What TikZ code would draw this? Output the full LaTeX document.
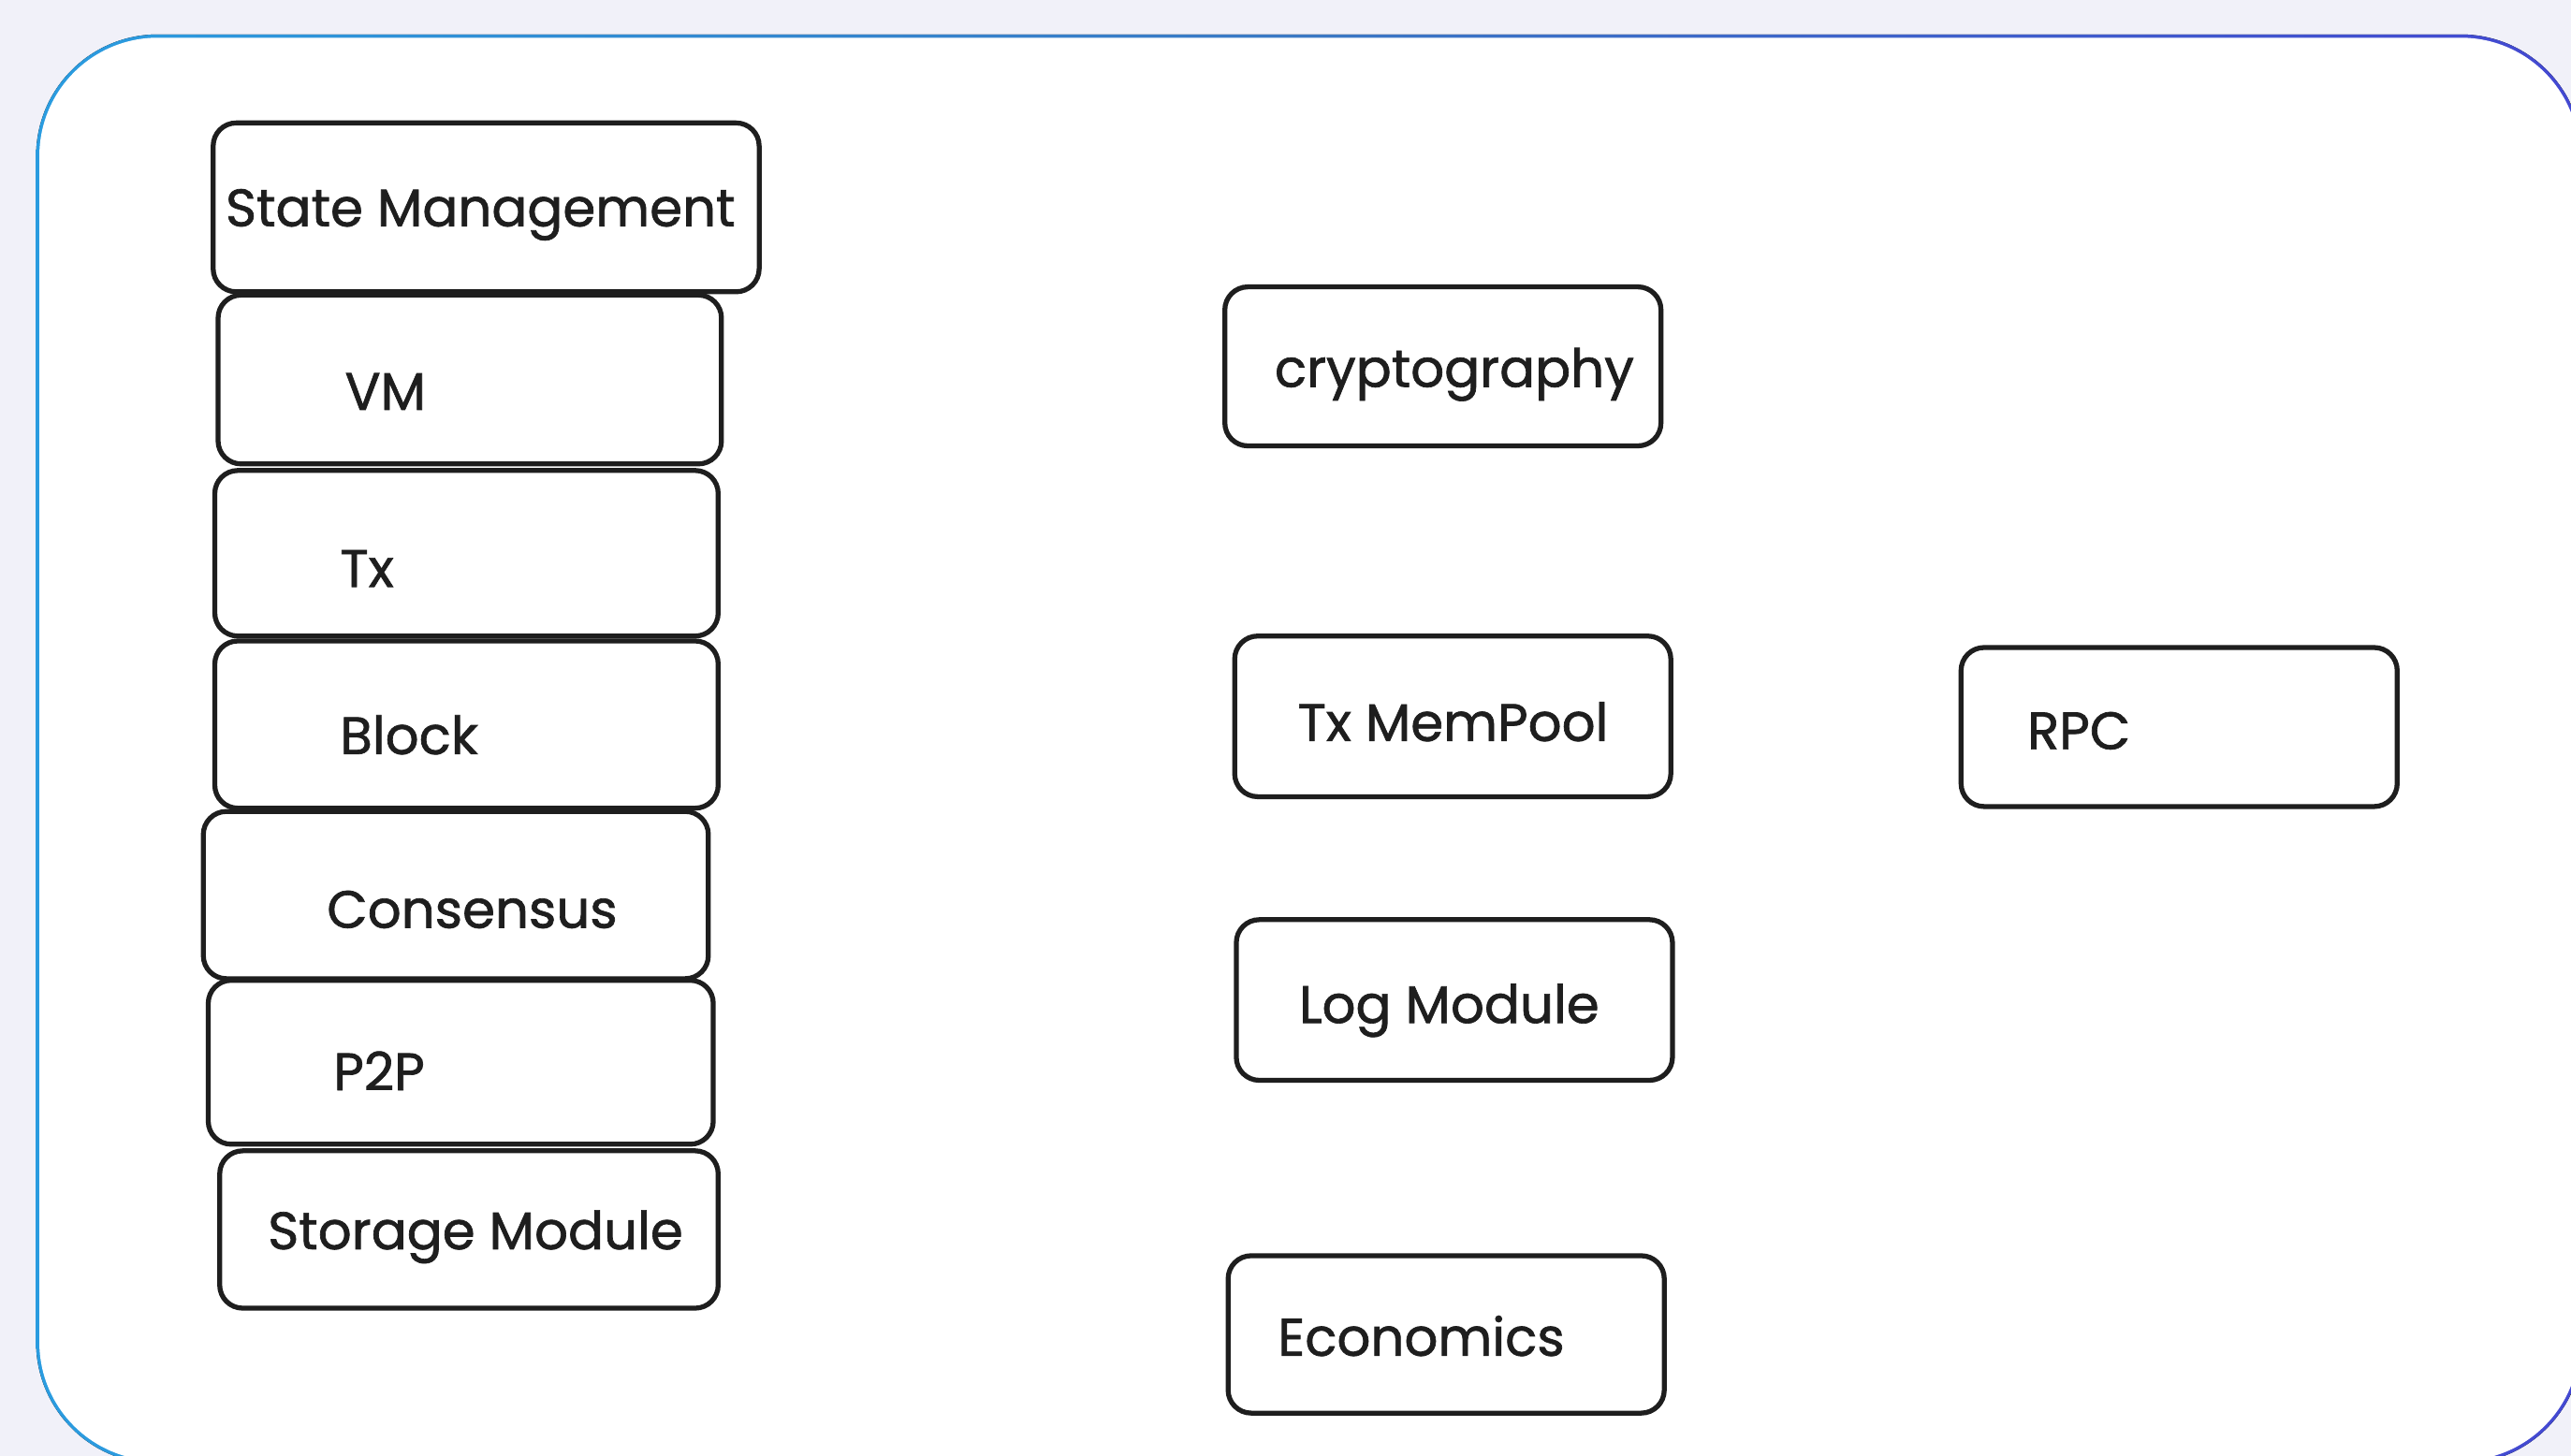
\documentclass[tikz,border=0pt]{standalone}
\usepackage{fontspec}
\setmainfont{Poppins}[FakeBold=1.2]
\usetikzlibrary{fit}

\definecolor{ink}{HTML}{1E1E1E}
\definecolor{pagebg}{HTML}{F1F1F9}
\definecolor{frameL}{HTML}{2A9CE0}
\definecolor{frameM}{HTML}{3A78C4}
\definecolor{frameR}{HTML}{4348D2}

\tikzset{
  modbox/.style={draw=ink, line width=1.5pt, rounded corners=7pt, fill=white, inner sep=0pt},
  modtext/.style={font=\fontsize{16}{19}\selectfont, text=ink, inner sep=0pt, anchor=base west},
}

\begin{document}
\begin{tikzpicture}[x=0.01752cm, y=-0.01752cm]
  \useasboundingbox (0,0) rectangle (1568,888);

  % page background and the rounded frame with its blue gradient rim
  \begin{scope}
    \clip (0,0) rectangle (1568,888);
    \fill[pagebg] (0,0) rectangle (1568,888);
    \fill[left color=frameL, right color=frameR, middle color=frameM, rounded corners=37pt]
      (22,21) rectangle (1575,893);
    \fill[white, rounded corners=36pt] (24,23) rectangle (1573,891);
  \end{scope}

  % left stack of layers
  \node[modbox, fit={(130,75)(463,178)}]  (sm)   {};
  \node[modbox, fit={(133,180)(440,283)}] (vm)   {};
  \node[modbox, fit={(131,287)(438,388)}] (tx)   {};
  \node[modbox, fit={(131,391)(438,493)}] (blk)  {};
  \node[modbox, fit={(124,495)(432,597)}] (cons) {};
  \node[modbox, fit={(127,598)(435,698)}] (ptp)  {};
  \node[modbox, fit={(134,702)(438,798)}] (stor) {};

  % middle column
  \node[modbox, fit={(747,175)(1013,272)}]  (crypt) {};
  \node[modbox, fit={(753,388)(1019,486)}]  (pool)  {};
  \node[modbox, fit={(754,561)(1020,659)}]  (logm)  {};
  \node[modbox, fit={(749,766)(1015,862)}]  (econ)  {};

  % right column
  \node[modbox, fit={(1196,395)(1462,492)}] (rpc) {};

  % labels
  \node[modtext, anchor=base] (smT)    at (293,138) {State Management};
  \node[modtext] (vmT)    at (210,250) {VM};
  \node[modtext] (txT)    at (207,358) {Tx};
  \node[modtext] (blkT)   at (207,460) {Block};
  \node[modtext] (consT)  at (199,566) {Consensus};
  \node[modtext] (ptpT)   at (203,665) {P2P};
  \node[modtext] (storT)  at (163,762) {Storage Module};
  \node[modtext] (cryptT) at (777,236) {cryptography};
  \node[modtext] (poolT)  at (791,452) {Tx MemPool};
  \node[modtext] (logmT)  at (792,624) {Log Module};
  \node[modtext] (econT)  at (779,827) {Economics};
  \node[modtext] (rpcT)   at (1236,457) {RPC};
\end{tikzpicture}
\end{document}
